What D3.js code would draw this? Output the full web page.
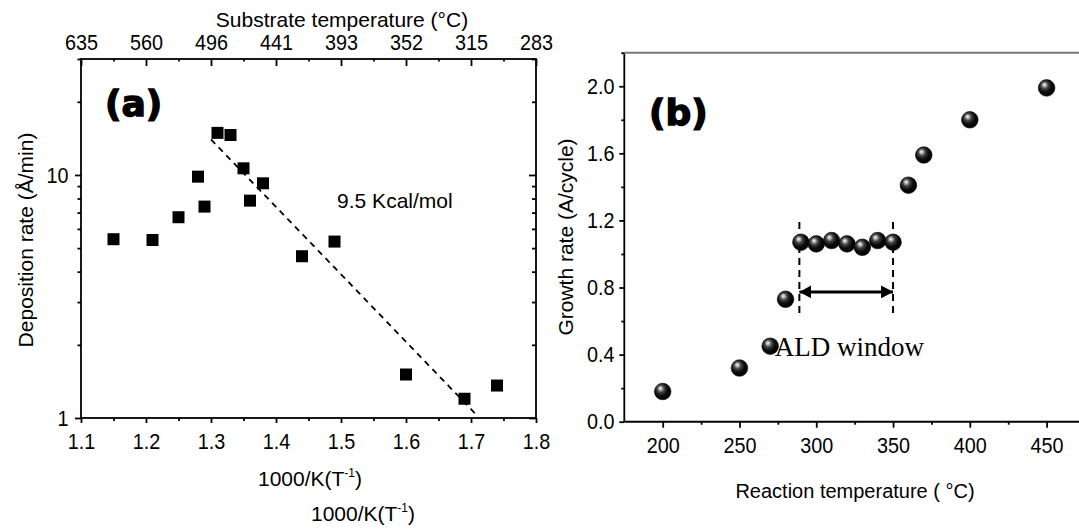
<!DOCTYPE html>
<html>
<head>
<meta charset="utf-8">
<style>
  body { margin: 0; background: #fff; }
  svg text { font-family: "Liberation Sans", Arial, sans-serif; fill: #000; }
</style>
</head>
<body>
<div id="chart"></div>
<script src="https://d3js.org/d3.v7.min.js"></script>
<script>
// panel (a): deposition rate vs 1000/T
const aX = [1.15, 1.21, 1.25, 1.28, 1.29, 1.31, 1.33, 1.35, 1.36, 1.38, 1.44, 1.49, 1.60, 1.69, 1.74];
const aY = [5.44, 5.40, 6.70, 9.84, 7.41, 14.9, 14.6, 10.65, 7.84, 9.24, 4.63, 5.32, 1.51, 1.20, 1.36];
const fitX = [1.30, 1.71];
const fitY = [14.0, 1.02];
const aTicks = [1.1, 1.2, 1.3, 1.4, 1.5, 1.6, 1.7, 1.8];
const aMinor = [1.15, 1.25, 1.35, 1.45, 1.55, 1.65, 1.75];
const aTopLabels = ['635', '560', '496', '441', '393', '352', '315', '283'];
const aYTicks = [1, 10];
const aYMinor = [2, 3, 4, 5, 6, 7, 8, 9, 20, 30];

// panel (b): growth rate vs reaction temperature
const bX = [200, 250, 270, 280, 290, 300, 310, 320, 330, 340, 350, 360, 370, 400, 450];
const bY = [0.18, 0.32, 0.45, 0.73, 1.07, 1.06, 1.08, 1.06, 1.04, 1.08, 1.07, 1.41, 1.59, 1.80, 1.99];
const bXTicks = [200, 250, 300, 350, 400, 450];
const bXMinor = [225, 275, 325, 375, 425];
const bYTicks = [0, 0.4, 0.8, 1.2, 1.6, 2.0];
const bYMinor = [0.2, 0.6, 1.0, 1.4, 1.8, 2.2];
const windowX = [289, 350];

const svg = d3.select('#chart').append('svg')
    .attr('width', 1079)
    .attr('height', 529);

const defs = svg.append('defs');
const grad = defs.append('radialGradient')
    .attr('id', 'ball')
    .attr('cx', '0.42').attr('cy', '0.4').attr('r', '0.62')
    .attr('fx', '0.36').attr('fy', '0.3');
grad.append('stop').attr('offset', '0%').attr('stop-color', '#ffffff');
grad.append('stop').attr('offset', '14%').attr('stop-color', '#bbbbbb');
grad.append('stop').attr('offset', '35%').attr('stop-color', '#444444');
grad.append('stop').attr('offset', '65%').attr('stop-color', '#0a0a0a');
grad.append('stop').attr('offset', '100%').attr('stop-color', '#000000');

defs.append('marker')
    .attr('id', 'head')
    .attr('viewBox', '0 0 12 13')
    .attr('refX', 12).attr('refY', 6.5)
    .attr('markerUnits', 'userSpaceOnUse')
    .attr('markerWidth', 12).attr('markerHeight', 13)
    .attr('orient', 'auto-start-reverse')
    .append('path')
    .attr('d', 'M0,0 L12,6.5 L0,13 Z')
    .attr('fill', '#000');

// tick labels in the source are a tall, slightly narrow sans
function styleAxis(g) {
    g.selectAll('path.domain').remove();
    g.selectAll('line').attr('stroke', '#000').attr('stroke-width', 1.8);
    g.selectAll('text')
        .attr('font-size', 22)
        .attr('transform', 'scale(0.9,1)')
        .attr('font-family', '"Liberation Sans", Arial, sans-serif');
}

// ---------- panel (a) ----------
const ax = d3.scaleLinear().domain([1.1, 1.8]).range([81, 536]);
const ay = d3.scaleLog().domain([1, 30]).range([418, 59]);

svg.append('g').attr('transform', 'translate(0,418)')
    .call(d3.axisBottom(ax).tickValues(aTicks).tickFormat(d3.format('.1f')).tickSize(5).tickPadding(10).tickSizeOuter(0))
    .call(styleAxis);
svg.append('g').attr('transform', 'translate(0,418)')
    .call(d3.axisBottom(ax).tickValues(aMinor).tickFormat('').tickSize(3).tickSizeOuter(0))
    .call(styleAxis);

svg.append('g').attr('transform', 'translate(0,59)')
    .call(d3.axisTop(ax).tickValues(aTicks).tickFormat((d, i) => aTopLabels[i]).tickSize(-7).tickPadding(9).tickSizeOuter(0))
    .call(styleAxis);
svg.append('g').attr('transform', 'translate(0,59)')
    .call(d3.axisTop(ax).tickValues(aMinor).tickFormat('').tickSize(-2.5).tickSizeOuter(0))
    .call(styleAxis);

svg.append('g').attr('transform', 'translate(81,0)')
    .call(d3.axisLeft(ay).tickValues(aYTicks).tickFormat(d3.format('d')).tickSize(6).tickPadding(8).tickSizeOuter(0))
    .call(styleAxis);
svg.append('g').attr('transform', 'translate(81,0)')
    .call(d3.axisLeft(ay).tickValues(aYMinor).tickFormat('').tickSize(3.5).tickSizeOuter(0))
    .call(styleAxis);

svg.append('g').attr('transform', 'translate(536,0)')
    .call(d3.axisRight(ay).tickValues(aYTicks).tickFormat('').tickSize(-7).tickSizeOuter(0))
    .call(styleAxis);
svg.append('g').attr('transform', 'translate(536,0)')
    .call(d3.axisRight(ay).tickValues(aYMinor).tickFormat('').tickSize(-4).tickSizeOuter(0))
    .call(styleAxis);

svg.append('rect')
    .attr('x', ax(1.1)).attr('y', ay(30))
    .attr('width', ax(1.8) - ax(1.1)).attr('height', ay(1) - ay(30))
    .attr('fill', 'none').attr('stroke', '#000').attr('stroke-width', 1.8);

svg.append('line')
    .attr('x1', ax(fitX[0])).attr('y1', ay(fitY[0]))
    .attr('x2', ax(fitX[1])).attr('y2', ay(fitY[1]))
    .attr('stroke', '#000').attr('stroke-width', 1.8)
    .attr('stroke-dasharray', '6,5');

svg.selectAll('.sq')
    .data(aX.map((x, i) => ({ x, y: aY[i] })))
    .enter().append('rect')
    .attr('x', d => ax(d.x) - 6)
    .attr('y', d => ay(d.y) - 6)
    .attr('width', 12).attr('height', 12)
    .attr('fill', '#000');

svg.append('text')
    .attr('x', ax(1.494)).attr('y', ay(7.3))
    .attr('font-size', 21)
    .text('9.5 Kcal/mol');

svg.append('text')
    .attr('x', 105).attr('y', 116)
    .attr('font-size', 36)
    .attr('font-weight', 'bold')
    .style('font-family', '"DejaVu Sans", sans-serif')
    .attr('stroke', '#000').attr('stroke-width', 1.4)
    .text('(a)');

svg.append('text')
    .attr('x', 342).attr('y', 27)
    .attr('text-anchor', 'middle')
    .attr('font-size', 21)
    .text('Substrate temperature (°C)');

function invK(x, y) {
    const t = svg.append('text')
        .attr('x', x).attr('y', y)
        .attr('text-anchor', 'middle')
        .attr('font-size', 21);
    t.append('tspan').text('1000/K(T');
    t.append('tspan').attr('font-size', 12).attr('dy', -9).text('-1');
    t.append('tspan').attr('dy', 9).text(')');
}
invK(310, 486);
invK(363, 521);

svg.append('text')
    .attr('transform', 'translate(33,240) rotate(-90)')
    .attr('text-anchor', 'middle')
    .attr('font-size', 21)
    .text('Deposition rate (Å/min)');

// ---------- panel (b) ----------
const bx = d3.scaleLinear().domain([175, 475]).range([624.3, 1085]);
const by = d3.scaleLinear().domain([0, 2.2]).range([421.7, 52.7]);

svg.append('g').attr('transform', 'translate(0,421.7)')
    .call(d3.axisBottom(bx).tickValues(bXTicks).tickFormat(d3.format('d')).tickSize(6).tickPadding(10).tickSizeOuter(0))
    .call(styleAxis);
svg.append('g').attr('transform', 'translate(0,421.7)')
    .call(d3.axisBottom(bx).tickValues(bXMinor).tickFormat('').tickSize(3).tickSizeOuter(0))
    .call(styleAxis);
svg.append('g').attr('transform', 'translate(624.3,0)')
    .call(d3.axisLeft(by).tickValues(bYTicks).tickFormat(d3.format('.1f')).tickSize(5).tickPadding(6).tickSizeOuter(0))
    .call(styleAxis);
svg.append('g').attr('transform', 'translate(624.3,0)')
    .call(d3.axisLeft(by).tickValues(bYMinor).tickFormat('').tickSize(3).tickSizeOuter(0))
    .call(styleAxis);

svg.append('line')
    .attr('x1', bx(175)).attr('x2', bx(475))
    .attr('y1', by(0)).attr('y2', by(0))
    .attr('stroke', '#000').attr('stroke-width', 2);
svg.append('line')
    .attr('x1', bx(175)).attr('x2', bx(175))
    .attr('y1', by(0)).attr('y2', by(2.2))
    .attr('stroke', '#000').attr('stroke-width', 1.8);
svg.append('line')
    .attr('x1', bx(175)).attr('x2', bx(475))
    .attr('y1', by(2.2)).attr('y2', by(2.2))
    .attr('stroke', '#777').attr('stroke-width', 2);

// ALD window markers
windowX.forEach(v => {
    svg.append('line')
        .attr('x1', bx(v)).attr('x2', bx(v))
        .attr('y1', by(1.19)).attr('y2', by(0.64))
        .attr('stroke', '#000').attr('stroke-width', 2)
        .attr('stroke-dasharray', '7,5');
});
svg.append('line')
    .attr('x1', bx(windowX[0])).attr('x2', bx(windowX[1]))
    .attr('y1', by(0.774)).attr('y2', by(0.774))
    .attr('stroke', '#000').attr('stroke-width', 3)
    .attr('marker-start', 'url(#head)')
    .attr('marker-end', 'url(#head)');

svg.selectAll('.ball')
    .data(bX.map((x, i) => ({ x, y: bY[i] })))
    .enter().append('circle')
    .attr('cx', d => bx(d.x))
    .attr('cy', d => by(d.y))
    .attr('r', 8.3)
    .attr('fill', 'url(#ball)')
    .attr('stroke', '#000').attr('stroke-width', 0.6);

svg.append('text')
    .attr('x', bx(273)).attr('y', by(0.389))
    .attr('font-size', 27)
    .style('font-family', '"Liberation Serif", "Times New Roman", serif')
    .text('ALD window');

svg.append('text')
    .attr('x', 649).attr('y', 125)
    .attr('font-size', 36)
    .attr('font-weight', 'bold')
    .style('font-family', '"DejaVu Sans", sans-serif')
    .attr('stroke', '#000').attr('stroke-width', 1.4)
    .text('(b)');

svg.append('text')
    .attr('x', 855).attr('y', 498)
    .attr('text-anchor', 'middle')
    .attr('font-size', 20)
    .text('Reaction temperature ( °C)');

svg.append('text')
    .attr('transform', 'translate(573,237) rotate(-90)')
    .attr('text-anchor', 'middle')
    .attr('font-size', 21)
    .text('Growth rate (A/cycle)');
</script>
</body>
</html>
